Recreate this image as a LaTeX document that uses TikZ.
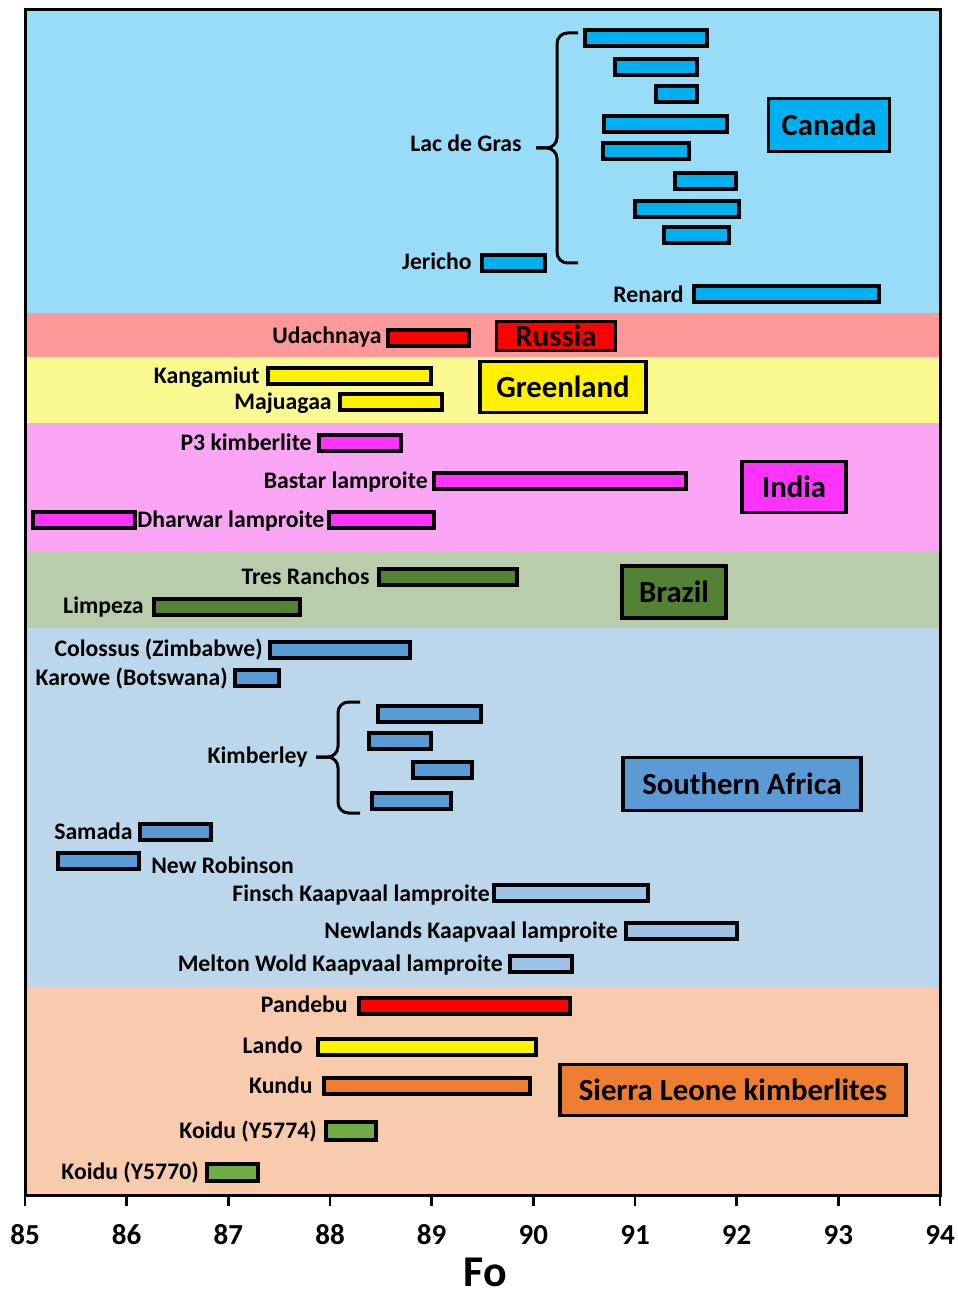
\documentclass[tikz,border=0pt]{standalone}
\usepackage{fontspec}
\setmainfont{Carlito}
\usepackage{xcolor}
\usepackage{tikz}
\usetikzlibrary{positioning}

\definecolor{canband}{RGB}{153,220,247}
\definecolor{rusband}{RGB}{255,153,153}
\definecolor{grnband}{RGB}{250,250,145}
\definecolor{indband}{RGB}{250,166,245}
\definecolor{braband}{RGB}{185,204,171}
\definecolor{saband}{RGB}{188,214,236}
\definecolor{slband}{RGB}{248,203,173}
\definecolor{canfill}{RGB}{0,176,240}
\definecolor{indfill}{RGB}{255,51,255}
\definecolor{brafill}{RGB}{84,130,53}
\definecolor{safill}{RGB}{91,155,213}
\definecolor{salight}{RGB}{157,195,230}
\definecolor{slorange}{RGB}{237,125,49}
\definecolor{slgreen}{RGB}{112,173,71}

\begin{document}
\begin{tikzpicture}[
  x=0.02cm, y=-0.02cm,
  font=\bfseries\fontsize{13.5}{15}\selectfont,
  lbl/.style={anchor=east, inner sep=0pt, text height=8.5pt, text depth=0pt},
  lblr/.style={lbl, anchor=west},
  bar/.style={draw, line width=0.065cm},
  regbox/.style={draw, line width=0.065cm, inner sep=0pt,
                 font=\bfseries\fontsize{17.5}{20}\selectfont},
  brc/.style={line width=0.06cm, rounded corners=6},
  ticklbl/.style={font=\bfseries\fontsize{16.5}{18}\selectfont}]

\useasboundingbox (0,0) rectangle (957,1297);

% Bands, one per country.
\fill[canband] (25,10) rectangle (940,313);
\fill[rusband] (25,313) rectangle (940,357);
\fill[grnband] (25,357) rectangle (940,423);
\fill[indband] (25,423) rectangle (940,551);
\fill[braband] (25,551) rectangle (940,628);
\fill[saband] (25,628) rectangle (940,987);
\fill[slband] (25,987) rectangle (940,1195);

% Canada.
\foreach \a/\b/\y in {585/707/38, 615/697/67, 656/697/94, 604/727/124,
                      603/689/151, 675/736/181, 635/739/209, 664/729/235,
                      482/545/263, 694/879/294}
  \draw[bar, fill=canfill] (\a,\y-8) rectangle (\b,\y+8);
\draw[brc] (578,33) -- (557,33) -- (557,148) -- (536,148);
\draw[brc] (578,263) -- (557,263) -- (557,148) -- (536,148);
\node[lbl] (lac) at (522,144) {Lac de Gras};
\node[lbl] (jer) at (472,262) {Jericho};
\node[lbl] (ren) at (684,295) {Renard};
\node[regbox, fill=canfill, minimum width=2.42cm, minimum height=1.06cm] (can) at (829,125) {Canada};

% Russia.
\draw[bar, fill=red] (388,330) rectangle (469,346);
\node[lbl] (uda) at (382,336) {Udachnaya};
\node[regbox, fill=red, minimum width=2.38cm, minimum height=0.58cm] (rus) at (556,336) {Russia};

% Greenland.
\draw[bar, fill=yellow] (268,368) rectangle (431,384);
\draw[bar, fill=yellow] (340,394) rectangle (442,410);
\node[lbl] (kan) at (260,376) {Kangamiut};
\node[lbl] (maj) at (332,402) {Majuagaa};
\node[regbox, fill=yellow, minimum width=3.32cm, minimum height=1.02cm] (grn) at (563,387) {Greenland};

% India.
\foreach \a/\b/\y in {319/401/443, 434/686/481, 33/135/520, 329/434/520}
  \draw[bar, fill=indfill] (\a,\y-8) rectangle (\b,\y+8);
\node[lbl] (p3) at (312,443) {P3 kimberlite};
\node[lbl] (bas) at (428,481) {Bastar lamproite};
\node[lblr] (dha) at (137,520) {Dharwar lamproite};
\node[regbox, fill=indfill, minimum width=2.08cm, minimum height=1.02cm] (ind) at (794,487) {India};

% Brazil.
\draw[bar, fill=brafill] (379,569) rectangle (517,585);
\draw[bar, fill=brafill] (154,599) rectangle (300,615);
\node[lbl] (tre) at (370,577) {Tres Ranchos};
\node[lbl] (lim) at (144,606) {Limpeza};
\node[regbox, fill=brafill, minimum width=2.08cm, minimum height=1.04cm] (bra) at (674,592) {Brazil};

% Southern Africa.
\foreach \a/\b/\y in {270/410/650, 235/279/678, 378/481/714, 369/431/741,
                      413/472/770, 372/451/801, 140/211/832, 58/139/861}
  \draw[bar, fill=safill] (\a,\y-8) rectangle (\b,\y+8);
\foreach \a/\b/\y in {494/648/893, 626/737/931, 510/572/964}
  \draw[bar, fill=salight] (\a,\y-8) rectangle (\b,\y+8);
\draw[brc] (360,702) -- (338,702) -- (338,757) -- (316,757);
\draw[brc] (360,813) -- (338,813) -- (338,757) -- (316,757);
\node[lbl] (col) at (263,649) {Colossus (Zimbabwe)};
\node[lbl] (kar) at (228,678) {Karowe (Botswana)};
\node[lbl] (kim) at (308,756) {Kimberley};
\node[lbl] (sam) at (133,832) {Samada};
\node[lblr] (nro) at (151,866) {New Robinson};
\node[lbl] (fin) at (490,894) {Finsch Kaapvaal lamproite};
\node[lbl] (new) at (618,931) {Newlands Kaapvaal lamproite};
\node[lbl] (mel) at (503,964) {Melton Wold Kaapvaal lamproite};
\node[regbox, fill=safill, minimum width=4.76cm, minimum height=1.06cm] (saf) at (742,784) {Southern Africa};

% Sierra Leone.
\draw[bar, fill=red] (359,998) rectangle (570,1014);
\draw[bar, fill=yellow] (318,1039) rectangle (536,1055);
\draw[bar, fill=slorange] (324,1078) rectangle (530,1094);
\draw[bar, fill=slgreen] (326,1122) rectangle (376,1140);
\draw[bar, fill=slgreen] (207,1164) rectangle (258,1181);
\node[lbl] (pan) at (348,1005) {Pandebu};
\node[lbl] (lan) at (303,1046) {Lando};
\node[lbl] (kun) at (313,1086) {Kundu};
\node[lbl] (k74) at (317,1131) {Koidu (Y5774)};
\node[lbl] (k70) at (199,1172) {Koidu (Y5770)};
\node[regbox, fill=slorange, minimum width=6.92cm, minimum height=1.02cm] (sle) at (733,1090) {Sierra Leone kimberlites};

% Frame and axis.
\draw[line width=0.06cm] (25,10) rectangle (940,1195);
\foreach \v in {85,...,94} {
  \draw[line width=0.05cm] ({25+(\v-85)*101.667},1195) -- ({25+(\v-85)*101.667},1206);
  \node[ticklbl] (t\v) at ({25+(\v-85)*101.667},1235) {\v};
}
\node[font=\bfseries\fontsize{25}{28}\selectfont, anchor=base, inner sep=0pt] (fo) at (485,1286) {Fo};
\end{tikzpicture}
\end{document}
